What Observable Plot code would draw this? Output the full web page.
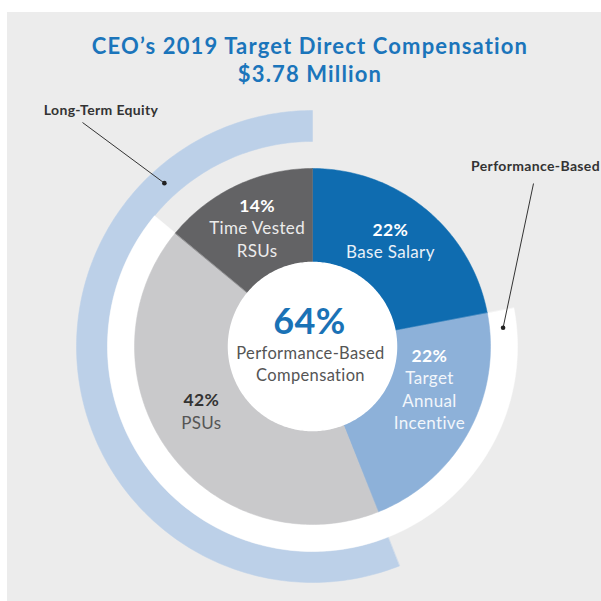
<!DOCTYPE html>
<html><head><meta charset="utf-8">
<script src="https://cdn.jsdelivr.net/npm/d3@7"></script>
<script src="https://cdn.jsdelivr.net/npm/@observablehq/plot@0.6"></script>
<style>
body{margin:0;background:#fff;font-family:Lato,sans-serif;}
#wrap{position:relative;width:601px;height:601px;overflow:hidden;}
#panel{position:absolute;left:7px;top:12px;right:0;bottom:0;background:#ececec;}
.t{position:absolute;left:0;width:620px;text-align:center;color:#1b75bb;font-weight:700;font-size:22px;line-height:28px;letter-spacing:1.15px;}
#chart{position:absolute;left:0;top:90px;}
#chart text{letter-spacing:0.35px;}
</style></head><body>
<div id="wrap"><div id="panel"></div>
<div class="t" style="top:32px">CEO’s 2019 Target Direct Compensation</div>
<div class="t" style="top:60px">$3.78 Million</div>
<div id="chart"></div></div>
<script>
// ---- data ----
const categories = ["Base Salary", "Target Annual Incentive", "PSUs", "Time Vested RSUs"];
const shares = [22, 22, 42, 14];
const shareLabels = ["22%", "22%", "42%", "14%"];
const labelLines = [["Base Salary"], ["Target", "Annual", "Incentive"], ["PSUs"], ["Time Vested", "RSUs"]];
const sliceColors = ["#0f6cb0", "#8db1d9", "#c9c9cb", "#636365"];
const pctColors = ["#ffffff", "#ffffff", "#333333", "#ffffff"];
const nameColors = ["#e8f0f8", "#f2f6fb", "#555555", "#ececec"];
const groupNames = ["Performance-Based", "Long-Term Equity"];
const groupMembers = [["Target Annual Incentive", "PSUs"], ["PSUs", "Time Vested RSUs"]];
const centerValue = "64%";
const centerLines = ["Performance-Based", "Compensation"];

// ---- layout ----
const W = 601, H = 511, CX = 312, CY = 256, R = 178;
const rHole = 84 / R, rRing0 = 1, rRing1 = 205 / R, rOuter1 = 236 / R;
const labelR = 130 / R, lineStep = 22.5 / R;
const labelNudge = [[-5, -5], [3, -19], [-6, -11], [0, 0]];

const total = d3.sum(shares);
const starts = [];
let acc = 0;
shares.forEach(v => { starts.push(acc / total); acc += v; });
const ends = shares.map((v, i) => starts[i] + v / total);

function arcPts(key, a0, a1, r0, r1) {
  const n = Math.max(2, Math.ceil((a1 - a0) * 360));
  const pts = [];
  for (let i = 0; i <= n; i++) { const a = (a0 + (a1 - a0) * i / n) * 2 * Math.PI; pts.push({key, x: r1 * Math.sin(a), y: r1 * Math.cos(a)}); }
  for (let i = n; i >= 0; i--) { const a = (a0 + (a1 - a0) * i / n) * 2 * Math.PI; pts.push({key, x: r0 * Math.sin(a), y: r0 * Math.cos(a)}); }
  return pts;
}
const idx = c => categories.indexOf(c);
const groupArc = g => { const m = groupMembers[g].map(idx); return [d3.min(m, i => starts[i]), d3.max(m, i => ends[i])]; };

const marks = [];
// Long-Term Equity outer ring
{ const [a0, a1] = groupArc(1);
  marks.push(Plot.line(arcPts(groupNames[1], a0, a1, rRing1, rOuter1), {x: "x", y: "y", curve: "linear-closed", fill: "#bcd0e8", stroke: "#bcd0e8", strokeWidth: 0.5})); }
// Performance-Based ring
{ const [a0, a1] = groupArc(0);
  marks.push(Plot.line(arcPts(groupNames[0], a0, a1, rRing0 - 0.01, rRing1), {x: "x", y: "y", curve: "linear-closed", fill: "#ffffff", stroke: "#ffffff", strokeWidth: 0.5})); }
// slices
categories.forEach((c, i) => {
  marks.push(Plot.line(arcPts(c, starts[i], ends[i], 0, 1), {x: "x", y: "y", curve: "linear-closed", fill: sliceColors[i], stroke: sliceColors[i], strokeWidth: 0.5}));
});
// hole
marks.push(Plot.line(arcPts("hole", 0, 1, 0, rHole), {x: "x", y: "y", curve: "linear-closed", fill: "#ffffff", stroke: "#ffffff"}));

// slice labels
const pctRows = [], nameRows = [];
categories.forEach((c, i) => {
  const a = (starts[i] + ends[i]) / 2 * 2 * Math.PI;
  const n = labelLines[i].length;
  const cx = labelR * Math.sin(a) + labelNudge[i][0] / R;
  const cy = labelR * Math.cos(a) - labelNudge[i][1] / R;
  const top = cy + (n * lineStep) / 2;
  pctRows.push({x: cx, y: top, text: shareLabels[i], fill: pctColors[i]});
  labelLines[i].forEach((t, k) => nameRows.push({x: cx, y: top - (k + 1) * lineStep, text: t, fill: nameColors[i]}));
});
marks.push(Plot.text(pctRows, {x: "x", y: "y", text: "text", fill: "fill", fontSize: 17.5, fontWeight: 700}));
marks.push(Plot.text(nameRows, {x: "x", y: "y", text: "text", fill: "fill", fontSize: 17}));

// center
marks.push(Plot.text([centerValue], {x: () => -3 / R, y: () => 24 / R, text: d => d, fill: "#1a72b6", fontSize: 36, fontWeight: 700}));
marks.push(Plot.text(centerLines, {x: () => -2 / R, y: (d, i) => (-7 - i * 22) / R, text: d => d, fill: "#555", fontSize: 16.5}));

// annotations
const ann = [
  {name: groupNames[1], a: 317.8 / 360, r: (rRing1 + rOuter1) / 2, ex: -230 / R, ey: 224 / R, tx: -211.5 / R, ty: 235.5 / R},
  {name: groupNames[0], a: 84.4 / 360, r: (rRing0 + rRing1) / 2, ex: 221 / R, ey: 163 / R, tx: 223 / R, ty: 180 / R}
].map(d => ({...d, dx0: d.r * Math.sin(d.a * 2 * Math.PI), dy0: d.r * Math.cos(d.a * 2 * Math.PI)}));
marks.push(Plot.link(ann, {x1: "dx0", y1: "dy0", x2: "ex", y2: "ey", stroke: "#333", strokeWidth: 1}));
marks.push(Plot.dot(ann, {x: "dx0", y: "dy0", r: 2.3, fill: "#222"}));
marks.push(Plot.text(ann, {x: "tx", y: "ty", text: "name", fill: "#333", fontSize: 14, fontWeight: 700}));

const chart = Plot.plot({
  width: W, height: H, margin: 0,
  x: {domain: [-CX / R, (W - CX) / R], range: [0, W], axis: null},
  y: {domain: [-(H - CY) / R, CY / R], range: [H, 0], axis: null},
  style: {background: "transparent", fontFamily: "Lato, sans-serif"},
  marks
});
document.getElementById("chart").appendChild(chart);
</script>
</body></html>
